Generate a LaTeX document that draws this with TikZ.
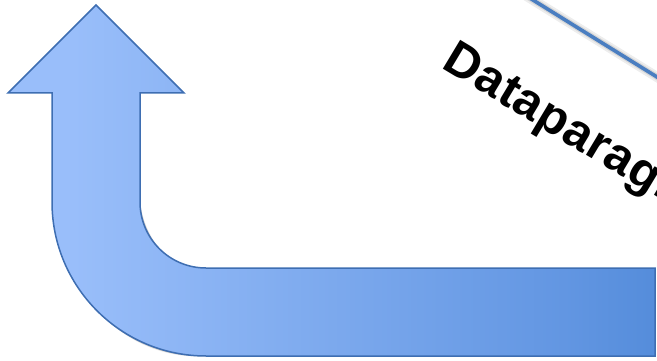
\documentclass[tikz,border=0pt]{standalone}
\usepackage{fontspec}
\setmainfont{Liberation Sans}
\definecolor{lblue}{RGB}{153,190,250}
\definecolor{mblue}{RGB}{98,150,226}
\definecolor{dblue}{RGB}{60,123,205}
\definecolor{edgeblue}{RGB}{62,110,178}
\definecolor{linecol}{RGB}{74,126,193}
\pgfdeclarehorizontalshading{arrowshade}{100bp}{color(0bp)=(lblue); color(30bp)=(lblue); color(68bp)=(mblue); color(88bp)=(dblue); color(100bp)=(dblue)}
\tikzset{
  shadowlayer/.style={fill=black, opacity=#1, draw=none},
  arrowbody/.style={shading=arrowshade, draw=edgeblue, line width=1.5pt, line join=miter},
  titletext/.style={font=\bfseries\fontsize{49}{49}\selectfont\addfontfeature{LetterSpace=1.5}, text=black, inner sep=0pt},
  thinline/.style={draw=linecol, line width=3.6pt}
}
\begin{document}
\begin{tikzpicture}[x=1pt,y=-1pt]
\useasboundingbox (0,0) rectangle (657,361);
\clip (0,0) rectangle (657,361);
\coordinate (tip) at (96,5);
\coordinate (hr) at (184,93);
\coordinate (sr) at (140,93);
\coordinate (ia) at (140,202);
\coordinate (ib) at (206,268);
\coordinate (tr) at (655,268);
\coordinate (br) at (655,356);
\coordinate (ob) at (206,356);
\coordinate (oa) at (52,202);
\coordinate (sl) at (52,93);
\coordinate (hl) at (8,93);
% soft shadow of the arrow
\foreach \d/\o in {6/0.05,5/0.06,4/0.08,3/0.10,2/0.12}{
  \fill[shadowlayer=\o, shift={(\d,\d)}] (tip) -- (hr) -- (sr) -- (ia) .. controls (140,238.5) and (169.5,268) .. (ib) -- (tr) -- (br) -- (ob) .. controls (121,356) and (52,287) .. (oa) -- (sl) -- (hl) -- cycle;
}
% arrow body
\path[arrowbody] (tip) -- (hr) -- (sr) -- (ia) .. controls (140,238.5) and (169.5,268) .. (ib) -- (tr) -- (br) -- (ob) .. controls (121,356) and (52,287) .. (oa) -- (sl) -- (hl) -- cycle;
% thin line with shadow
\coordinate (la) at (520,-8.07);
\coordinate (lb) at (680,91.3);
\draw[black, opacity=0.07, line width=10pt, shift={(3,4)}] (la) -- (lb);
\draw[black, opacity=0.10, line width=6pt, shift={(3,4)}] (la) -- (lb);
\draw[thinline] (la) -- (lb);
% title text
\node[titletext, rotate=-31, anchor=base west] (title) at (440,67) {Dataparagr};
\end{tikzpicture}
\end{document}
